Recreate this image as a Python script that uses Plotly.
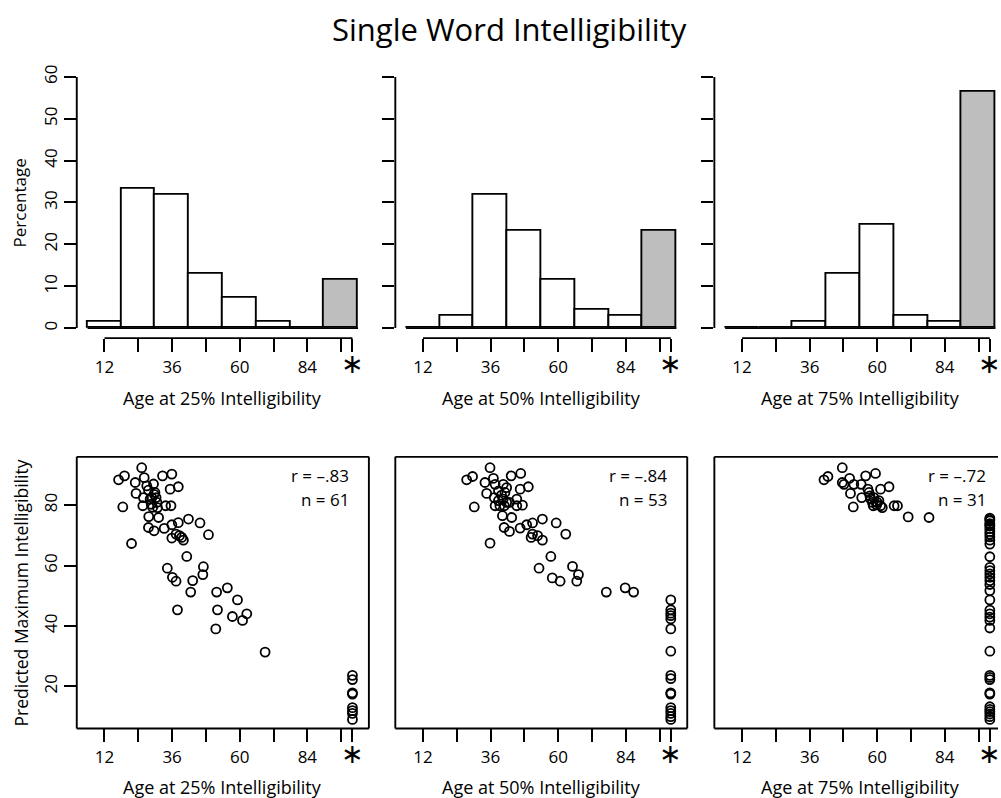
import plotly.graph_objects as go

# ---------------- data ----------------
bin_centers = [12, 24, 36, 48, 60, 72, 84]
bin_width = 12
na_center = 96          # grey bar (not reached) bin centre
na_x = 100              # x position used for "*" (not reached)
bin_edges = [6, 102]

pct25 = [1.45, 33.3, 31.9, 13.0, 7.2, 1.45, 0.0]
na25 = 11.6
pct50 = [0.0, 2.9, 31.9, 23.2, 11.6, 4.3, 2.9]
na50 = 23.2
pct75 = [0.0, 0.0, 1.45, 13.0, 24.6, 2.9, 1.45]
na75 = 56.5

age25 = [17.0, 19.1, 18.5, 21.6, 22.9, 23.2, 25.2, 26.1, 25.6, 25.8, 27.6, 27.7, 27.6,
         29.4, 29.1, 29.6, 28.8, 29.9, 30.6, 31.2, 28.6, 29.6, 30.3, 32.6, 33.7, 35.6,
         35.9, 35.3, 38.2, 33.2, 35.9, 38.2, 41.8, 45.9, 35.9, 37.4, 38.6, 39.4, 40.0,
         48.9, 41.2, 34.3, 36.1, 37.4, 43.3, 42.6, 47.1, 46.9, 37.9, 51.8, 55.6, 52.1,
         51.5, 57.4, 59.2, 61.0, 62.5, 69.0, 27.0, 28.2, 30.8]
max25 = [88.4, 89.7, 79.4, 67.3, 87.5, 83.9, 92.4, 89.1, 79.8, 82.5, 85.0, 76.2, 72.6,
         87.0, 79.3, 71.5, 82.5, 84.2, 80.9, 75.9, 80.3, 83.6, 82.5, 89.7, 79.8, 79.8,
         90.3, 85.3, 86.1, 72.3, 73.5, 74.2, 75.4, 74.1, 69.1, 70.4, 69.9, 69.3, 68.4,
         70.2, 63.0, 59.1, 56.1, 54.8, 55.0, 51.2, 59.6, 57.0, 45.3, 51.2, 52.6, 45.3,
         39.0, 43.1, 48.6, 41.8, 44.0, 31.3, 86.4, 82.0, 79.2]
max25_na = [23.6, 22.2, 17.8, 17.4, 12.9, 11.9, 11.0, 9.0]

age50 = [27.5, 29.6, 30.2, 35.8, 35.8, 34.0, 34.6, 37.0, 37.6, 37.3, 38.8, 40.5, 37.6,
         39.3, 41.1, 40.5, 41.7, 40.9, 40.2, 42.7, 43.5, 43.3, 46.7, 46.5, 49.4, 45.3,
         47.3, 40.8, 42.7, 46.5, 48.8, 50.9, 54.4, 59.3, 50.4, 50.9, 52.7, 54.4, 62.7,
         57.4, 53.2, 57.9, 60.7, 65.1, 67.2, 66.6, 77.1, 83.8, 86.8, 45.3, 38.8, 39.9, 41.7]
max50 = [88.4, 89.5, 79.4, 67.4, 92.4, 87.5, 83.9, 88.9, 86.9, 82.5, 84.7, 86.9, 79.8,
         79.8, 84.2, 82.0, 80.9, 79.8, 76.5, 80.9, 75.9, 89.7, 90.5, 85.3, 86.1, 79.8,
         80.0, 72.6, 71.3, 72.4, 73.5, 74.1, 75.4, 74.1, 69.3, 70.4, 69.9, 68.4, 70.4,
         63.0, 59.1, 55.9, 54.8, 59.7, 57.0, 54.8, 51.2, 52.6, 51.2, 82.0, 81.5, 83.3, 85.8]
max50_na = [48.6, 45.3, 44.2, 43.4, 42.3, 39.0, 31.6, 23.6, 22.5, 17.8, 17.4, 12.9,
            11.9, 11.0, 9.9, 9.0]

age75 = [41.1, 42.5, 47.6, 47.6, 48.2, 50.2, 51.7, 50.5, 51.5, 54.3, 55.9, 59.4, 54.5,
         57.1, 57.4, 57.7, 58.3, 58.6, 60.0, 60.6, 61.2, 61.2, 61.8, 64.2, 66.0, 67.2,
         71.0, 78.4, 58.8, 56.7, 59.8]
max75 = [88.4, 89.5, 92.4, 87.5, 86.9, 88.9, 86.9, 83.9, 79.4, 86.9, 89.7, 90.5, 82.5,
         84.2, 83.1, 82.0, 80.9, 79.8, 80.9, 81.5, 85.3, 79.8, 79.2, 86.1, 79.8, 79.8,
         76.1, 75.9, 82.5, 85.3, 80.1]
max75_na = [75.7, 75.3, 74.8, 73.9, 73.5, 73.1, 72.2, 71.3, 70.4, 69.5, 68.4, 67.1,
            62.9, 59.4, 58.3, 57.2, 56.1, 55.0, 53.7, 51.7, 48.6, 45.2, 44.0, 42.9,
            41.8, 39.3, 31.6, 23.6, 22.9, 22.2, 17.8, 17.4, 13.2, 12.3, 11.6, 10.8,
            9.9, 9.0]

stats = [("r = \u2013.83", "n = 61"), ("r = \u2013.84", "n = 53"), ("r = \u2013.72", "n = 31")]
xtitles = ["Age at 25% Intelligibility", "Age at 50% Intelligibility", "Age at 75% Intelligibility"]
xtickvals = [12, 24, 36, 48, 60, 72, 84, 96, 100]
xticktext = ["12", "", "36", "", "60", "", "84", "", "<span style='font-size:27px'>\u2217</span>"]
top_yticks = [0, 10, 20, 30, 40, 50, 60]
bot_yticks = [20, 40, 60, 80]
main_title = "Single Word Intelligibility"
ytitle_top = "Percentage"
ytitle_bot = "Predicted Maximum Intelligibility"

# ---------------- layout geometry (pixels) ----------------
W, H = 1001, 798
FONT = "Open Sans"
TICK_FS = 17
TITLE_FS = 18
col_px = [(77, 370), (396.5, 689.3), (716.5, 1001)]
col_center_px = [223.5, 543, 862.9]
xranges = [[2.16, 105.84], [2.16, 105.84], [2.16, 102.9]]
top_px = (65, 337)
bot_px = (456, 728.3)
LW = 1.9

fig = go.Figure()
layout = dict(width=W, height=H, margin=dict(l=0, r=0, t=0, b=0),
              plot_bgcolor="white", paper_bgcolor="white", showlegend=False,
              font=dict(family=FONT, color="black", size=16))
shapes = []
annotations = []

def ydom(py):
    return [1 - py[1] / H, 1 - py[0] / H]

hist_sets = [(pct25, na25), (pct50, na50), (pct75, na75)]
scatter_sets = [(age25, max25, max25_na), (age50, max50, max50_na), (age75, max75, max75_na)]

for c in range(3):
    xd = [col_px[c][0] / W, col_px[c][1] / W]
    for r in range(2):
        idx = r * 3 + c + 1
        xa = "x" if idx == 1 else f"x{idx}"
        ya = "y" if idx == 1 else f"y{idx}"
        xkey = "xaxis" if idx == 1 else f"xaxis{idx}"
        ykey = "yaxis" if idx == 1 else f"yaxis{idx}"
        layout[xkey] = dict(domain=xd, anchor=ya, range=xranges[c], showgrid=False,
                            zeroline=False, showline=False, ticks="outside", ticklen=13,
                            tickwidth=LW, tickcolor="black", tickmode="array",
                            tickvals=xtickvals, ticktext=xticktext,
                            ticklabeloverflow="allow",
                            tickfont=dict(family=FONT, size=TICK_FS, color="black"),
                            fixedrange=True)
        if r == 0:
            pct, na = hist_sets[c]
            layout[ykey] = dict(domain=ydom(top_px), anchor=xa, range=[-2.4, 62.4],
                                showgrid=False, zeroline=False, showline=False,
                                ticks="outside", ticklen=12, tickwidth=LW, tickcolor="black",
                                tickmode="array", tickvals=top_yticks,
                                showticklabels=(c == 0), tickangle=-90,
                                tickfont=dict(family=FONT, size=TICK_FS, color="black"))
            fig.add_trace(go.Scatter(x=bin_edges, y=[0, 0], mode="lines",
                                     line=dict(color="black", width=LW),
                                     xaxis=xa, yaxis=ya, hoverinfo="skip"))
            fig.add_trace(go.Bar(x=bin_centers, y=pct, width=bin_width,
                                 marker=dict(color="white", line=dict(color="black", width=LW)),
                                 xaxis=xa, yaxis=ya))
            fig.add_trace(go.Bar(x=[na_center], y=[na], width=bin_width,
                                 marker=dict(color="#BEBEBE", line=dict(color="black", width=LW)),
                                 xaxis=xa, yaxis=ya))
            # R-style axis lines
            shapes.append(dict(type="line", xref=xa, yref=f"{ya} domain", x0=12, x1=na_x,
                               y0=0, y1=0, line=dict(color="black", width=LW)))
            shapes.append(dict(type="line", xref=f"{xa} domain", yref=ya, x0=0, x1=0,
                               y0=0, y1=60, line=dict(color="black", width=LW)))
            annotations.append(dict(text=xtitles[c], xref="paper", yref="paper",
                                    x=col_center_px[c] / W, y=1 - 397 / H, showarrow=False,
                                    font=dict(family=FONT, size=TITLE_FS, color="black"),
                                    xanchor="center", yanchor="middle"))
        else:
            ax, ay, ay_na = scatter_sets[c]
            layout[ykey] = dict(domain=ydom(bot_px), anchor=xa, range=[6, 96],
                                showgrid=False, zeroline=False, showline=False,
                                ticks="outside" if c == 0 else "", ticklen=12, tickwidth=LW,
                                tickcolor="black", tickmode="array", tickvals=bot_yticks,
                                showticklabels=(c == 0), tickangle=-90,
                                tickfont=dict(family=FONT, size=TICK_FS, color="black"))
            mk = dict(symbol="circle-open", size=9, color="black", line=dict(color="black", width=1.8))
            fig.add_trace(go.Scatter(x=ax, y=ay, mode="markers", marker=mk, xaxis=xa, yaxis=ya))
            fig.add_trace(go.Scatter(x=[na_x] * len(ay_na), y=ay_na, mode="markers", marker=mk,
                                     xaxis=xa, yaxis=ya))
            # box (right side of third panel falls outside the picture)
            for (x0, y0, x1, y1) in [(0, 0, 1, 0), (0, 1, 1, 1), (0, 0, 0, 1)] + ([(1, 0, 1, 1)] if c < 2 else []):
                shapes.append(dict(type="line", xref=f"{xa} domain", yref=f"{ya} domain",
                                   x0=x0, x1=x1, y0=y0, y1=y1, line=dict(color="black", width=LW)))
            annotations.append(dict(text=xtitles[c], xref="paper", yref="paper",
                                    x=col_center_px[c] / W, y=1 - 787 / H, showarrow=False,
                                    font=dict(family=FONT, size=TITLE_FS, color="black"),
                                    xanchor="center", yanchor="middle"))
            for txt, yv in [(stats[c][0], 89.7), (stats[c][1], 82.0)]:
                annotations.append(dict(text=txt, xref=xa, yref=ya, x=99.4, y=yv,
                                        showarrow=False, xanchor="right", yanchor="middle",
                                        font=dict(family=FONT, size=17, color="black")))

annotations.append(dict(text=main_title, xref="paper", yref="paper", x=511 / W, y=1 - 27 / H,
                        showarrow=False, xanchor="center", yanchor="middle",
                        font=dict(family=FONT, size=31, color="black")))
annotations.append(dict(text=ytitle_top, xref="paper", yref="paper", x=20 / W, y=1 - 201 / H,
                        showarrow=False, textangle=-90, xanchor="center", yanchor="middle",
                        font=dict(family=FONT, size=17, color="black")))
annotations.append(dict(text=ytitle_bot, xref="paper", yref="paper", x=21 / W, y=1 - 592 / H,
                        showarrow=False, textangle=-90, xanchor="center", yanchor="middle",
                        font=dict(family=FONT, size=17.5, color="black")))

layout["shapes"] = shapes
layout["annotations"] = annotations
layout["bargap"] = 0
layout["barmode"] = "overlay"
fig.update_layout(**layout)
fig.write_html("out.html")
